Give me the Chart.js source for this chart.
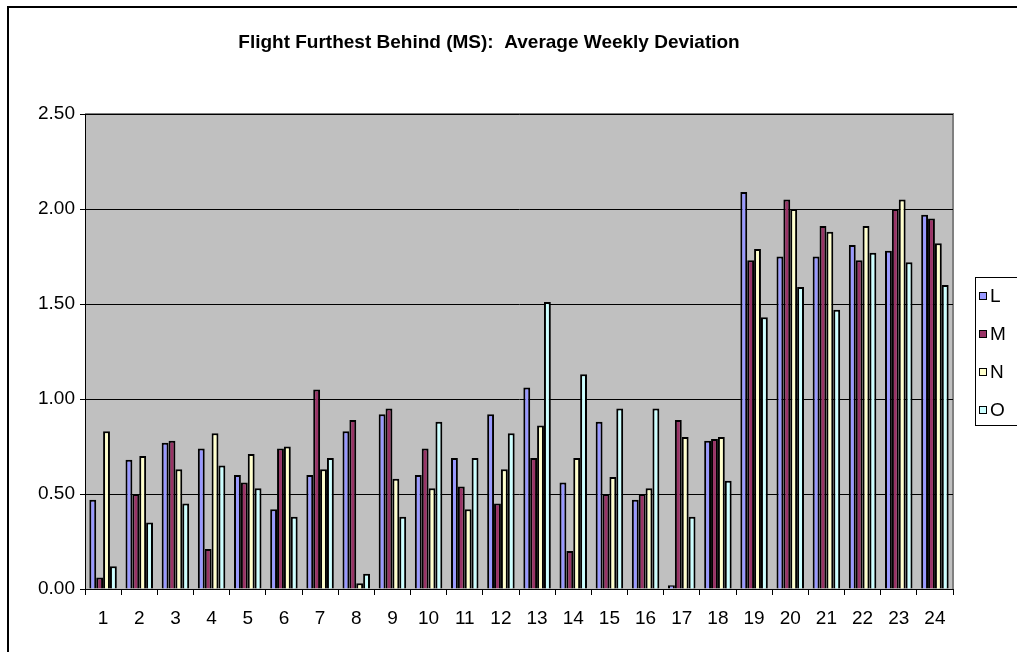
<!DOCTYPE html>
<html>
<head>
<meta charset="utf-8">
<script src="https://cdn.jsdelivr.net/npm/chart.js@4.4.1/dist/chart.umd.min.js"></script>
<style>
  html, body { margin: 0; padding: 0; background: #fff; }
  #wrap { width: 1017px; height: 652px; position: relative; }
</style>
</head>
<body>
<div id="wrap"><canvas id="myChart" width="1017" height="652"></canvas></div>
<script>
var weeks = ['1','2','3','4','5','6','7','8','9','10','11','12','13','14','15','16','17','18','19','20','21','22','23','24'];
var seriesL = [0.47, 0.68, 0.77, 0.74, 0.60, 0.42, 0.60, 0.83, 0.92, 0.60, 0.69, 0.92, 1.06, 0.56, 0.88, 0.47, 0.02, 0.78, 2.09, 1.75, 1.75, 1.81, 1.78, 1.97];
var seriesM = [0.06, 0.50, 0.78, 0.21, 0.56, 0.74, 1.05, 0.89, 0.95, 0.74, 0.54, 0.45, 0.69, 0.20, 0.50, 0.50, 0.89, 0.79, 1.73, 2.05, 1.91, 1.73, 2.00, 1.95];
var seriesN = [0.83, 0.70, 0.63, 0.82, 0.71, 0.75, 0.63, 0.03, 0.58, 0.53, 0.42, 0.63, 0.86, 0.69, 0.59, 0.53, 0.80, 0.80, 1.79, 2.00, 1.88, 1.91, 2.05, 1.82];
var seriesO = [0.12, 0.35, 0.45, 0.65, 0.53, 0.38, 0.69, 0.08, 0.38, 0.88, 0.69, 0.82, 1.51, 1.13, 0.95, 0.95, 0.38, 0.57, 1.43, 1.59, 1.47, 1.77, 1.72, 1.60];
var seriesNames = ['L', 'M', 'N', 'O'];
var seriesColors = ['#9999FF', '#993366', '#FFFFCC', '#CCFFFF'];
var chartTitle = 'Flight Furthest Behind (MS):  Average Weekly Deviation';

var FONT = '"Liberation Sans", Arial, sans-serif';

// grey plot area, outer frame, title and the clipped legend box
var excelLook = {
    id: 'excelLook',
    beforeDraw: function (chart) {
        var c = chart.ctx, a = chart.chartArea;
        c.save();
        c.fillStyle = '#fff';
        c.fillRect(0, 0, chart.width, chart.height);
        c.fillStyle = '#C0C0C0';
        c.fillRect(a.left, a.top, a.right - a.left, a.bottom - a.top);
        c.strokeStyle = '#808080';
        c.lineWidth = 2;
        c.beginPath();
        c.moveTo(a.left, a.top);
        c.lineTo(a.right, a.top);
        c.lineTo(a.right, a.bottom);
        c.stroke();
        c.strokeStyle = '#000';
        c.lineWidth = 2;
        c.strokeRect(8, 7, chart.width + 20, chart.height + 20);
        c.fillStyle = '#000';
        c.font = 'bold 19px ' + FONT;
        c.textAlign = 'center';
        c.textBaseline = 'middle';
        c.fillText(chartTitle, 489, 43);
        c.restore();
    },
    afterDraw: function (chart) {
        var c = chart.ctx;
        c.save();
        c.fillStyle = '#fff';
        c.fillRect(975, 277, 60, 148);
        c.strokeStyle = '#000';
        c.lineWidth = 1;
        c.strokeRect(975.5, 277.5, 60, 148);
        c.font = '19px ' + FONT;
        c.textBaseline = 'middle';
        c.textAlign = 'left';
        for (var i = 0; i < seriesNames.length; i++) {
            var y = 296 + i * 38;
            c.fillStyle = seriesColors[i];
            c.fillRect(979, y - 4, 8, 8);
            c.strokeRect(979.5, y - 3.5, 7, 7);
            c.fillStyle = '#000';
            c.fillText(seriesNames[i], 990, y + 1);
        }
        c.restore();
    }
};

var ctx = document.getElementById('myChart').getContext('2d');
var datasets = [seriesL, seriesM, seriesN, seriesO].map(function (vals, i) {
    return {
        label: seriesNames[i],
        data: vals,
        backgroundColor: seriesColors[i],
        borderColor: '#000',
        borderWidth: 2,
        categoryPercentage: 0.76,
        barPercentage: 1.0
    };
});

var flightChart = new Chart(ctx, {
    type: 'bar',
    data: { labels: weeks, datasets: datasets },
    options: {
        responsive: false,
        animation: false,
        layout: { padding: { left: 0, right: 64, top: 114, bottom: 0 } },
        scales: {
            x: {
                afterFit: function (scale) { scale.height = 63; },
                grid: {
                    offset: true,
                    drawOnChartArea: false,
                    drawTicks: true,
                    tickLength: 6,
                    color: '#000'
                },
                border: { color: '#000', width: 1 },
                ticks: {
                    color: '#000',
                    padding: 12,
                    maxRotation: 0,
                    font: { family: FONT, size: 19 }
                }
            },
            y: {
                min: 0,
                max: 2.5,
                afterFit: function (scale) { scale.width = 85; },
                grid: {
                    color: '#000',
                    lineWidth: 1,
                    drawTicks: true,
                    tickLength: 5
                },
                border: { color: '#000', width: 1 },
                ticks: {
                    stepSize: 0.5,
                    color: '#000',
                    padding: 5,
                    font: { family: FONT, size: 19 },
                    callback: function (v) { return v.toFixed(2); }
                }
            }
        },
        plugins: {
            legend: { display: false },
            title: { display: false },
            tooltip: { enabled: false }
        }
    },
    plugins: [excelLook]
});
</script>
</body>
</html>
